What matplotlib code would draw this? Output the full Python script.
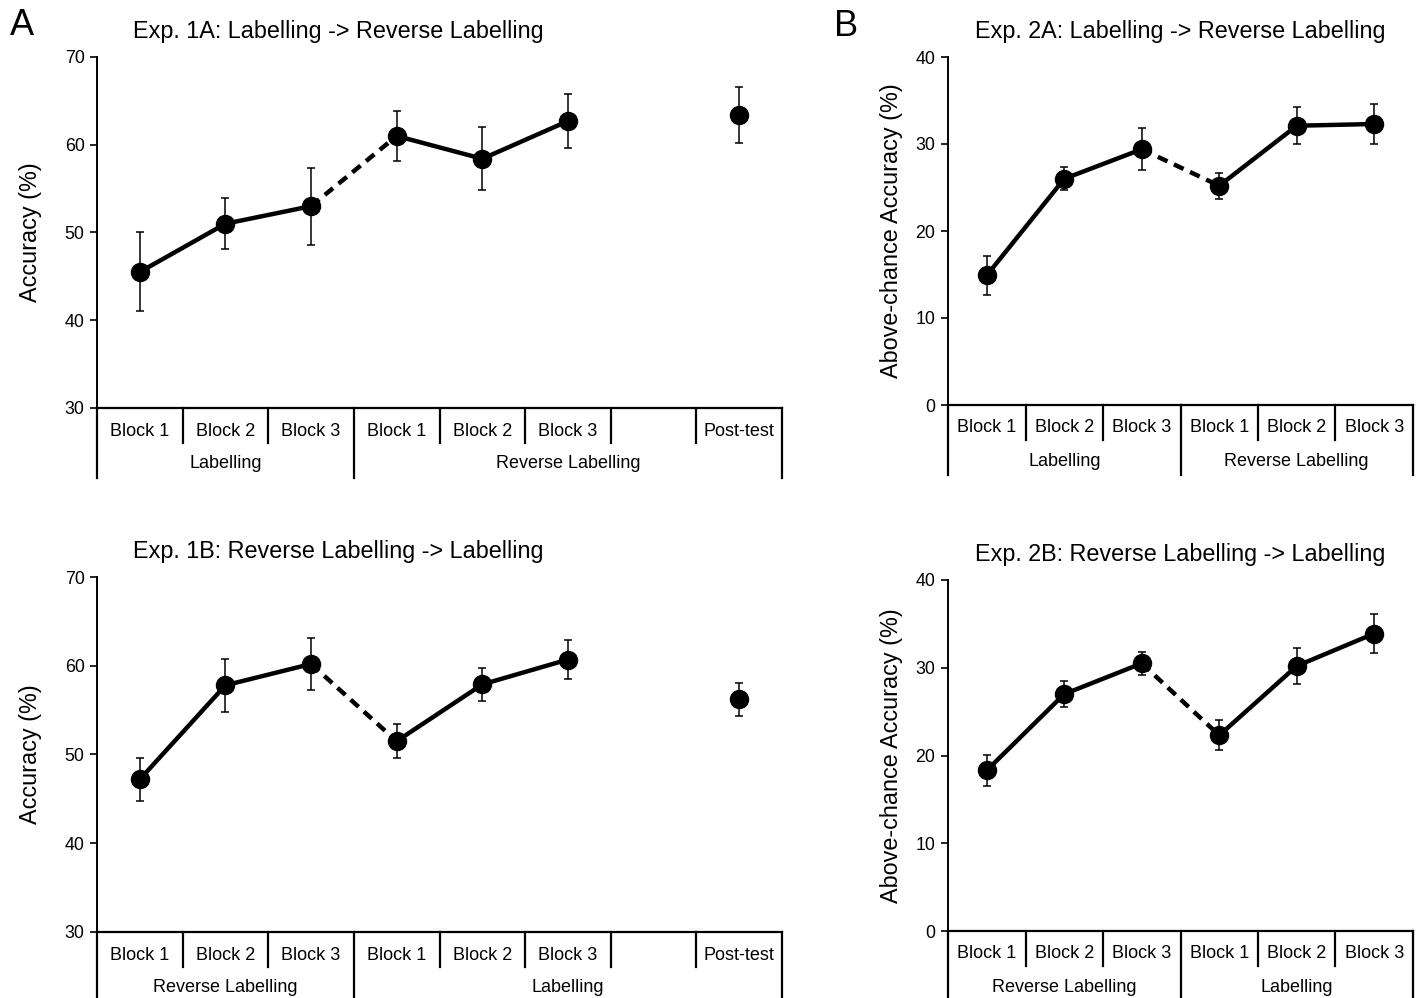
import numpy as np
import matplotlib
matplotlib.use("Agg")
import matplotlib.pyplot as plt
from matplotlib.transforms import blended_transform_factory

plt.rcParams['font.family'] = ['Liberation Sans', 'DejaVu Sans']

W, H = 1418, 998

# ---- data ----
exp1_labels = ["Block 1", "Block 2", "Block 3", "Block 1", "Block 2", "Block 3", "", "Post-test"]
exp2_labels = ["Block 1", "Block 2", "Block 3", "Block 1", "Block 2", "Block 3"]

exp1a_mean = [45.5, 51.0, 53.0, 61.0, 58.4, 62.7, np.nan, 63.4]
exp1a_err = [4.5, 2.9, 4.4, 2.8, 3.6, 3.1, np.nan, 3.2]
exp1a_groups = [("Labelling", 0, 3), ("Reverse Labelling", 3, 8)]

exp1b_mean = [47.2, 57.8, 60.2, 51.5, 57.9, 60.7, np.nan, 56.2]
exp1b_err = [2.4, 3.0, 2.9, 1.9, 1.9, 2.2, np.nan, 1.9]
exp1b_groups = [("Reverse Labelling", 0, 3), ("Labelling", 3, 8)]

exp2a_mean = [14.9, 26.0, 29.4, 25.2, 32.1, 32.3]
exp2a_err = [2.2, 1.3, 2.4, 1.5, 2.1, 2.3]
exp2a_groups = [("Labelling", 0, 3), ("Reverse Labelling", 3, 6)]

exp2b_mean = [18.3, 27.0, 30.5, 22.3, 30.2, 33.9]
exp2b_err = [1.8, 1.5, 1.3, 1.7, 2.0, 2.2]
exp2b_groups = [("Reverse Labelling", 0, 3), ("Labelling", 3, 6)]


def draw_panel(ax, labels, mean, err, groups, ylim, ylabel, title, title_x, title_ha, ylab_x):
    mean = np.array(mean, dtype=float)
    err = np.array(err, dtype=float)
    x = np.arange(len(labels))
    n = len(labels)

    ax.errorbar(x, mean, yerr=err, fmt='none', ecolor='black', elinewidth=1.1,
                capsize=3, capthick=1.1, zorder=2)
    # solid within each phase, dashed at the switch
    ax.plot(x[0:3], mean[0:3], color='black', lw=3.2, zorder=3)
    ax.plot(x[2:4], mean[2:4], color='black', lw=3.2, ls=(0, (2.4, 1.6)), zorder=3)
    ax.plot(x[3:6], mean[3:6], color='black', lw=3.2, zorder=3)
    ax.plot(x, mean, 'o', color='black', ms=13, zorder=4)

    ax.set_xlim(-0.5, n - 0.5)
    ax.set_ylim(*ylim)
    ax.set_yticks(np.arange(ylim[0], ylim[1] + 1, 10))
    ax.tick_params(axis='y', direction='out', length=5, width=1.2, labelsize=12.8, pad=4)
    ax.set_xticks([])
    for s in ['top', 'right']:
        ax.spines[s].set_visible(False)
    ax.spines['left'].set_linewidth(1.4)
    ax.spines['bottom'].set_linewidth(1.6)

    ax.set_ylabel(ylabel, fontsize=16.8)
    ax.yaxis.set_label_coords(ylab_x, 0.5)
    ax.set_title(title, fontsize=16.8, x=title_x, ha=title_ha, pad=14)

    # category table under the axis
    hpx = ax.get_position().height * H
    tr = blended_transform_factory(ax.transData, ax.transAxes)
    long_edges = set()
    for _, a, b in groups:
        long_edges.add(a)
        long_edges.add(b)
    for e in range(n + 1):
        depth = 70 if e in long_edges else 35
        ax.plot([e - 0.5, e - 0.5], [0, -depth / hpx], transform=tr, color='black',
                lw=1.6, clip_on=False)
    for i, lab in enumerate(labels):
        ax.text(i, -23 / hpx, lab, transform=tr, ha='center', va='center', fontsize=13)
    for name, a, b in groups:
        ax.text((a + b - 1) / 2, -56 / hpx, name, transform=tr, ha='center', va='center',
                fontsize=13)


fig = plt.figure(figsize=(W / 100, H / 100), dpi=100)
ax1a = fig.add_axes([97 / W, 1 - 408 / H, 685 / W, 351 / H])
ax1b = fig.add_axes([97 / W, 1 - 932 / H, 685 / W, 355 / H])
ax2a = fig.add_axes([948 / W, 1 - 405 / H, 465 / W, 348 / H])
ax2b = fig.add_axes([948 / W, 1 - 931 / H, 465 / W, 351 / H])

draw_panel(ax1a, exp1_labels, exp1a_mean, exp1a_err, exp1a_groups, (30, 70),
           "Accuracy (%)", "Exp. 1A: Labelling -> Reverse Labelling", 36 / 685, 'left', -0.080)
draw_panel(ax1b, exp1_labels, exp1b_mean, exp1b_err, exp1b_groups, (30, 70),
           "Accuracy (%)", "Exp. 1B: Reverse Labelling -> Labelling", 36 / 685, 'left', -0.080)
draw_panel(ax2a, exp2_labels, exp2a_mean, exp2a_err, exp2a_groups, (0, 40),
           "Above-chance Accuracy (%)", "Exp. 2A: Labelling -> Reverse Labelling", 0.5, 'center', -0.097)
draw_panel(ax2b, exp2_labels, exp2b_mean, exp2b_err, exp2b_groups, (0, 40),
           "Above-chance Accuracy (%)", "Exp. 2B: Reverse Labelling -> Labelling", 0.5, 'center', -0.097)

fig.text(10 / W, 1 - 8 / H, "A", fontsize=26, va='top', ha='left')
fig.text(834 / W, 1 - 9 / H, "B", fontsize=26, va='top', ha='left')

fig.savefig("out.png", dpi=100)
